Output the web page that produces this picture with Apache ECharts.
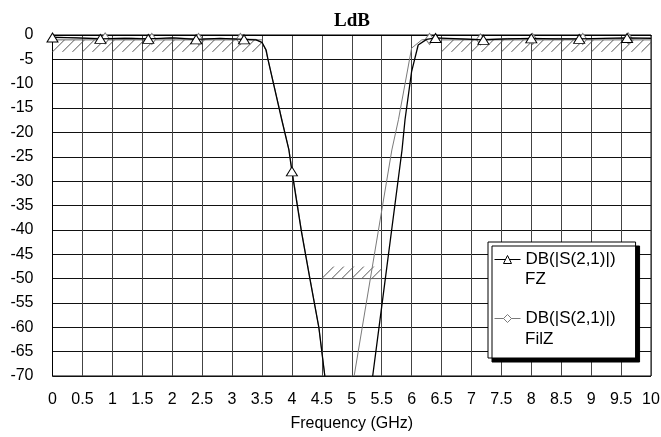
<!DOCTYPE html>
<html><head><meta charset="utf-8">
<script src="https://cdn.jsdelivr.net/npm/echarts@6/dist/echarts.min.js"></script>
<style>html,body{margin:0;padding:0;background:#fff}#c{width:661px;height:437px}</style>
</head><body><div id="c"></div>
<script>
// ---- data ----
const fzFreq = [0,0.4,0.8,1.2,1.6,2.0,2.4,2.8,3.2,3.4,3.5,3.57,3.6,3.83,3.95,4.0,4.16,4.3,4.45,4.55,4.9,5.35,5.5,5.84,5.89,6.0,6.11,6.25,6.4,6.8,7.2,7.6,8.0,8.4,8.8,9.2,9.6,10];
const fzDb   = [-0.5,-0.6,-0.8,-0.7,-0.8,-0.6,-0.9,-0.7,-0.9,-1.0,-1.5,-3.1,-5.0,-17.4,-23.6,-28.0,-40.4,-50.0,-60,-70,null,-70,-55.8,-23.6,-17.4,-7.5,-2.05,-0.9,-0.6,-0.8,-1.0,-0.8,-0.7,-0.8,-0.8,-0.7,-0.6,-0.7];
const fzMarkers = [0,0.8,1.6,2.4,3.2,4.0,6.4,7.2,8.0,8.8,9.6];

const filFreq = [0,0.44,0.88,1.3,1.66,2.05,2.44,2.8,3.14,3.4,3.5,3.56,3.6,3.83,3.95,4.16,4.3,4.45,4.55,4.8,5.04,5.36,5.67,5.78,6.0,6.17,6.3,6.7,7.15,7.6,8.02,8.45,8.86,9.25,9.62,10];
const filDb   = [-0.4,-0.6,-0.7,-0.6,-0.8,-0.6,-0.8,-0.7,-0.8,-0.9,-1.6,-3.0,-5.0,-17.2,-23.5,-40.2,-49.8,-60,-70,null,-70,-46.4,-23.6,-17.4,-2.7,-1.0,-0.8,-0.7,-0.9,-0.7,-0.8,-0.7,-0.8,-0.7,-0.7,-0.6];
const filMarkers = [0.88,1.66,2.44,3.14,6.3,7.15,8.02,8.86,9.62];

// goals (hatched): start, end, level (dB), side (-1 hatch below line, 1 above)
const goalStart = [0, 6.5, 4.5];
const goalEnd   = [3.5, 10, 5.5];
const goalLevel = [-1, -1, -50];
const goalSide  = [-1, -1, 1];

const legendMeasure = 'DB(|S(2,1)|)';
const seriesNames = ['FZ', 'FilZ'];

function buildData(freq, db, markers) {
  return freq.map((f, i) => {
    const v = db[i] === null ? [f, '-'] : [f, db[i]];
    return markers.indexOf(f) >= 0 ? { value: v } : { value: v, symbol: 'none' };
  });
}

const goalData = goalStart.map((s, i) => [s, goalEnd[i], goalLevel[i], goalSide[i]]);

function renderHatch(params, api) {
  const x0 = api.value(0), x1 = api.value(1), lvl = api.value(2), side = api.value(3);
  const p0 = api.coord([x0, lvl]), p1 = api.coord([x1, lvl]);
  const h = 12, run = 12, step = 10;
  const yLow = side > 0 ? p0[1] : p0[1] + h;
  const children = [];
  for (let x = p0[0]; x < p1[0] - 0.5; x += step) {
    let xb = x + run, yb = yLow - h;
    if (xb > p1[0]) { const t = (p1[0] - x) / run; xb = p1[0]; yb = yLow - h * t; }
    children.push({ type: 'line', shape: { x1: x, y1: yLow, x2: xb, y2: yb },
      style: { stroke: '#555', lineWidth: 1 } });
  }
  children.push({ type: 'line', shape: { x1: p0[0], y1: p0[1], x2: p1[0], y2: p1[1] },
    style: { stroke: '#666', lineWidth: 1 } });
  return { type: 'group', children };
}

const chart = echarts.init(document.getElementById('c'), null, { renderer: 'canvas' });
const font = '"Liberation Sans", Arial, sans-serif';
chart.setOption({
  animation: false,
  backgroundColor: '#fff',
  title: {
    text: 'LdB', left: 334, top: 12, padding: 0,
    textStyle: { fontFamily: '"Liberation Serif", "Times New Roman", serif', fontWeight: 'bold', fontSize: 19, color: '#000' }
  },
  grid: { left: 52.5, right: 10, top: 35, bottom: 61, containLabel: false, outerBoundsMode: 'none',
    show: true, borderColor: '#000', borderWidth: 1, backgroundColor: 'transparent' },
  xAxis: {
    type: 'value', min: 0, max: 10, interval: 0.5,
    name: 'Frequency (GHz)', nameLocation: 'middle', nameGap: 40,
    nameTextStyle: { fontFamily: font, fontSize: 16, color: '#000' },
    axisLine: { show: true, lineStyle: { color: '#000' } },
    axisTick: { show: false },
    axisLabel: { fontFamily: font, fontSize: 16, color: '#000', margin: 16 },
    splitLine: { show: true, lineStyle: { color: '#444', width: 1 } }
  },
  yAxis: {
    type: 'value', min: -70, max: 0, interval: 5,
    axisLine: { show: true, lineStyle: { color: '#000' } },
    axisTick: { show: false },
    axisLabel: { fontFamily: font, fontSize: 16, color: '#000', margin: 19 },
    splitLine: { show: true, lineStyle: { color: '#111', width: 1 } }
  },
  legend: {
    orient: 'vertical', left: 488, top: 242,
    data: seriesNames,
    formatter: () => legendMeasure,
    itemWidth: 26, itemHeight: 10, itemGap: 36,
    padding: [6, 20, 28, 6],
    backgroundColor: '#fff', borderColor: '#000', borderWidth: 1,
    shadowColor: '#000', shadowBlur: 0, shadowOffsetX: 4, shadowOffsetY: 4,
    lineStyle: { width: 1 },
    itemStyle: { borderWidth: 1 },
    textStyle: { fontFamily: font, fontSize: 17, color: '#000', lineHeight: 23 }
  },
  graphic: [
    { type: 'text', left: 525, top: 271, z: 100, silent: true,
      style: { text: seriesNames[0], fontFamily: font, fontSize: 17, fill: '#000' } },
    { type: 'text', left: 525, top: 331, z: 100, silent: true,
      style: { text: seriesNames[1], fontFamily: font, fontSize: 17, fill: '#000' } }
  ],
  series: [
    {
      type: 'custom', name: 'goals', renderItem: renderHatch, data: goalData,
      encode: { x: [0, 1], y: 2 }, silent: true, z: 1
    },
    {
      type: 'line', name: seriesNames[1], data: buildData(filFreq, filDb, filMarkers),
      symbol: 'diamond', symbolSize: [8, 11], showAllSymbol: true,
      lineStyle: { color: '#7a7a7a', width: 1 },
      itemStyle: { color: '#fff', borderColor: '#7a7a7a', borderWidth: 1 },
      connectNulls: false, clip: true, z: 2
    },
    {
      type: 'line', name: seriesNames[0], data: buildData(fzFreq, fzDb, fzMarkers),
      symbol: 'triangle', symbolSize: [11, 9], showAllSymbol: true,
      lineStyle: { color: '#000', width: 1.3 },
      itemStyle: { color: '#fff', borderColor: '#000', borderWidth: 1 },
      connectNulls: false, clip: true, z: 3
    }
  ]
});
</script></body></html>
